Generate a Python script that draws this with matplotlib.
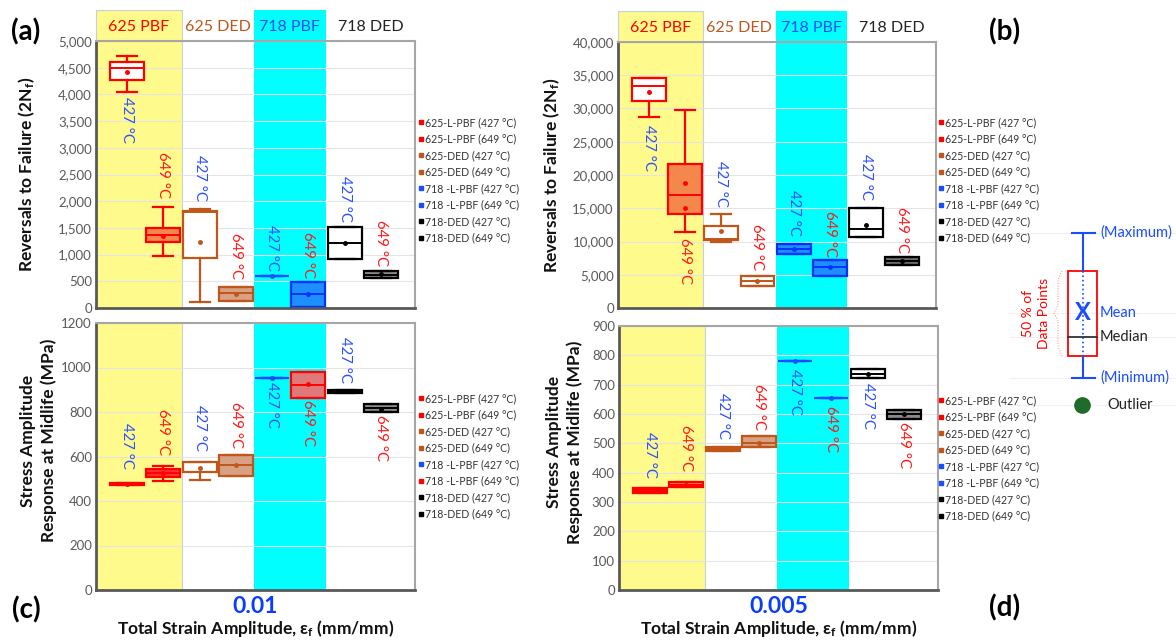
import matplotlib
matplotlib.use('Agg')
import matplotlib.pyplot as plt
from matplotlib.lines import Line2D
from matplotlib.patches import Rectangle
from matplotlib.ticker import FuncFormatter, MultipleLocator

plt.rcParams['font.family'] = ['Lato', 'DejaVu Sans']
plt.rcParams['mathtext.default'] = 'regular'

W, H = 1176, 641

groups = ['625 PBF', '625 DED', '718 PBF', '718 DED']
series = ['625-L-PBF (427 °C)', '625-L-PBF (649 °C)', '625-DED (427 °C)', '625-DED (649 °C)',
          '718 -L-PBF (427 °C)', '718 -L-PBF (649 °C)', '718-DED (427 °C)', '718-DED (649 °C)']
temps = ['427 °C', '649 °C'] * 4

# (a) reversals to failure, strain amplitude 0.01
a_lo = [4050, 965, 110, 140, 594, 25, 915, 560]
a_q1 = [4265, 1235, 945, 140, 594, 25, 915, 560]
a_med = [4500, 1370, 1800, 280, 594, 262, 1214, 623]
a_q3 = [4610, 1505, 1825, 390, 594, 486, 1525, 697]
a_hi = [4710, 1885, 1850, 390, 594, 486, 1525, 697]
a_mean = [4420, 1350, 1245, 262, 594, 262, 1214, 641]

# (b) reversals to failure, strain amplitude 0.005
b_lo = [28650, 11500, 9950, 3350, 8100, 4750, 10650, 6400]
b_q1 = [31100, 14150, 10300, 3350, 8100, 4750, 10650, 6400]
b_med = [33350, 17000, 10400, 4100, 8850, 6100, 11850, 7000]
b_q3 = [34600, 21600, 12400, 4850, 9600, 7250, 15100, 7600]
b_hi = [34600, 29750, 14100, 4850, 9600, 7250, 15100, 7600]
b_mean = [32500, 18750, 11600, 4100, 8850, 6100, 12500, 7000]
b_extra = [[], [15100], [], [], [], [], [], []]

# (c) stress amplitude at midlife, 0.01
c_lo = [472, 492, 495, 514, 955, 865, 885, 798]
c_q1 = [474, 510, 532, 514, 955, 865, 885, 798]
c_med = [477, 528, 575, 561, 955, 922, 893, 820]
c_q3 = [480, 543, 577, 607, 955, 982, 900, 837]
c_hi = [482, 558, 577, 607, 955, 982, 900, 837]
c_mean = [476, 525, 547, 561, 955, 927, 893, 815]

# (d) stress amplitude at midlife, 0.005
d_lo = [331, 350, 474, 488, 780, 653, 724, 584]
d_q1 = [331, 350, 474, 488, 780, 653, 724, 584]
d_med = [340, 359, 481, 500, 780, 653, 738, 600]
d_q3 = [348, 367, 488, 524, 780, 653, 753, 615]
d_hi = [348, 367, 488, 524, 780, 653, 753, 615]
d_mean = [340, 359, 481, 502, 780, 653, 738, 600]

# where the temperature labels start (data units)
a_lab = [3950, 2926, 2864, 1400, 1556, 1432, 2472, 1650]
b_lab = [27500, 10500, 22100, 12650, 17750, 14650, 23150, 15250]
c_lab = [750, 815, 832, 845, 937, 855, 1137, 787]
d_lab = [539, 562, 670, 701, 755, 627, 707, 573]

RED = '#ff0000'
BROWN = '#c0561a'
BLUE = '#1a4dff'
DBLUE = '#0033ff'
ORANGE = '#f4874b'
TAN = '#d9a184'
FBLUE = '#1e8fff'
GRAY = '#8a8a8a'
TXT_BLUE = '#2d50ff'
TXT_RED = '#ff1a1a'

a_face = ['white', ORANGE, 'white', TAN, BLUE, FBLUE, 'white', GRAY]
a_edge = [RED, RED, BROWN, BROWN, BLUE, DBLUE, 'black', 'black']
b_face = ['white', ORANGE, 'white', 'white', FBLUE, FBLUE, 'white', '#6f6f6f']
b_edge = [RED, RED, BROWN, BROWN, DBLUE, DBLUE, 'black', 'black']
c_face = [RED, '#ff3333', 'white', TAN, BLUE, '#e07a7a', 'black', GRAY]
c_edge = [RED, RED, BROWN, BROWN, BLUE, RED, 'black', 'black']
d_face = [RED, '#ff7a5a', BROWN, TAN, BLUE, BLUE, 'white', GRAY]
d_edge = [RED, RED, BROWN, BROWN, BLUE, BLUE, 'black', 'black']

leg_ab = [RED, RED, BROWN, BROWN, BLUE, BLUE, 'black', 'black']
leg_c = [RED, RED, BROWN, BROWN, BLUE, RED, 'black', 'black']


def rect(l, t, r, b):
    return [l / W, 1 - b / H, (r - l) / W, (b - t) / H]


def panel(ax, lo, q1, med, q3, hi, mean, extra, faces, edges, lab_y,
          ymax, step, commas, header):
    ax.set_xlim(0, 8.8)
    ax.set_ylim(0, ymax)
    ax.axvspan(0, 2.36, color='#fffa8c', zorder=0.2, lw=0)
    ax.axvspan(4.36, 6.34, color='#00ffff', zorder=0.2, lw=0)
    ax.axvline(2.36, color='#c8d0d8', lw=0.8, zorder=0.3)
    pos = [0.86 + i for i in range(8)]
    for i in range(8):
        st = dict(med=med[i], q1=q1[i], q3=q3[i], whislo=lo[i], whishi=hi[i],
                  mean=mean[i], fliers=extra[i])
        ec = edges[i]
        ax.bxp([st], positions=[pos[i]], widths=0.94, capwidths=0.55,
               patch_artist=True, showmeans=True, manage_ticks=False,
               boxprops=dict(facecolor=faces[i], edgecolor=ec, lw=1.6),
               medianprops=dict(color=ec, lw=1.4),
               whiskerprops=dict(color=ec, lw=1.6),
               capprops=dict(color=ec, lw=1.6),
               meanprops=dict(marker='o', ms=2.5, mfc=ec, mec=ec),
               flierprops=dict(marker='o', ms=2.5, mfc=ec, mec=ec))
        ax.text(pos[i], lab_y[i], temps[i], rotation=270, ha='center', va='top',
                fontsize=10.8, color=TXT_BLUE if i % 2 == 0 else TXT_RED, zorder=5)
    ax.yaxis.set_major_locator(MultipleLocator(step))
    if commas:
        ax.yaxis.set_major_formatter(FuncFormatter(lambda v, p: f'{v:,.0f}'))
    ax.tick_params(axis='y', length=0, labelsize=9.5, labelcolor='#595959', pad=3)
    ax.grid(axis='y', color='#e4e4e4', lw=0.8)
    ax.set_axisbelow(True)
    for s in ['left', 'bottom']:
        ax.spines[s].set_color('#595959')
        ax.spines[s].set_linewidth(2)
    for s in ['top', 'right']:
        ax.spines[s].set_color('#a6a6a6')
        ax.spines[s].set_linewidth(1.5)
    if header:
        tr = ax.get_xaxis_transform()
        ax.add_patch(Rectangle((0, 1), 2.36, 0.116, transform=tr, clip_on=False,
                               fc='#fffa8c', ec='#c8d0d8', lw=0.8, zorder=0.2))
        ax.add_patch(Rectangle((4.36, 1), 1.98, 0.116, transform=tr, clip_on=False,
                               fc='#00ffff', lw=0, zorder=0.2))
        for x, g, c in zip([1.18, 3.36, 5.35, 7.58], groups,
                           [RED, BROWN, BLUE, '#222222']):
            ax.text(x, 1.054, g, transform=tr, ha='center', va='center',
                    fontsize=11.5, color=c)
        ax.set_xticks([])
    return pos


def legend(x, y, colors):
    hs = [Line2D([], [], marker='s', ls='', color=c, ms=3.5) for c in colors]
    fig.legend(hs, series, loc='upper left', bbox_to_anchor=(x / W, 1 - y / H),
               frameon=False, fontsize=7.6, handlelength=0.5, handletextpad=0.2,
               labelspacing=0.52, borderpad=0, borderaxespad=0, labelcolor='#333333')


fig = plt.figure(figsize=(W / 100, H / 100), dpi=100)

ax_a = fig.add_axes(rect(96, 41, 415, 308))
ax_b = fig.add_axes(rect(618, 42, 936, 308))
ax_c = fig.add_axes(rect(96, 323, 415, 590))
ax_d = fig.add_axes(rect(619, 326, 938, 590))

none = [[]] * 8
panel(ax_a, a_lo, a_q1, a_med, a_q3, a_hi, a_mean, none, a_face, a_edge, a_lab,
      5000, 500, True, True)
panel(ax_b, b_lo, b_q1, b_med, b_q3, b_hi, b_mean, b_extra, b_face, b_edge, b_lab,
      40000, 5000, True, True)
panel(ax_c, c_lo, c_q1, c_med, c_q3, c_hi, c_mean, none, c_face, c_edge, c_lab,
      1200, 200, False, False)
panel(ax_d, d_lo, d_q1, d_med, d_q3, d_hi, d_mean, none, d_face, d_edge, d_lab,
      900, 100, False, False)

lab_kw = dict(fontsize=12.5, fontweight='bold', color='#111111')
ax_a.set_ylabel('Reversals to Failure (2N$_f$)', **lab_kw)
ax_a.yaxis.set_label_coords(-0.185, 0.5)
ax_b.set_ylabel('Reversals to Failure (2N$_f$)', **lab_kw)
ax_b.yaxis.set_label_coords(-0.176, 0.5)
ax_c.set_ylabel('Stress Amplitude\nResponse at Midlife (MPa)', linespacing=1.3, **lab_kw)
ax_c.yaxis.set_label_coords(-0.122, 0.56)
ax_d.set_ylabel('Stress Amplitude\nResponse at Midlife (MPa)', linespacing=1.3, **lab_kw)
ax_d.yaxis.set_label_coords(-0.113, 0.56)

for ax, s in [(ax_c, '0.01'), (ax_d, '0.005')]:
    ax.set_xticks([4.4])
    ax.set_xticklabels([s], fontsize=16.5, fontweight='bold', color='#0a3cff')
    ax.tick_params(axis='x', length=0, pad=4)
    ax.set_xlabel('Total Strain Amplitude, ε$_f$ (mm/mm)', labelpad=1, **lab_kw)

legend(418, 117, leg_ab)
legend(938, 117, leg_ab)
legend(418, 393, leg_c)
legend(938, 395, leg_ab)

for s, x, y in [('(a)', 26, 32), ('(b)', 1005, 32), ('(c)', 26, 610), ('(d)', 1005, 608)]:
    fig.text(x / W, 1 - y / H, s, fontsize=20, fontweight='bold', ha='center', va='center')

# box-plot key on the right
k = fig.add_axes(rect(990, 215, 1176, 425))
k.set_xlim(990, 1176)
k.set_ylim(425, 215)
k.axis('off')
for y in [233, 313, 337, 378, 405]:
    k.plot([1010, 1176], [y, y], color='#f0f0f0', lw=0.8, zorder=0)
k.plot([1083, 1083], [233, 271], color=BLUE, lw=1.5)
k.plot([1083, 1083], [271, 356], color=BLUE, lw=1.2, ls=':')
k.plot([1083, 1083], [356, 378], color=BLUE, lw=1.5)
k.plot([1072, 1095], [233, 233], color=BLUE, lw=1.5)
k.plot([1072, 1095], [378, 378], color=BLUE, lw=1.5)
k.add_patch(Rectangle((1068, 271), 29, 85, fc='none', ec=RED, lw=1.3))
k.plot([1068, 1097], [337, 337], color='#333333', lw=1.3)
k.text(1083, 313, 'X', color=BLUE, fontsize=17, fontweight='bold', ha='center', va='center')
k.plot([1082], [405], 'o', ms=11, color='#1e6b2a')
k.plot([1062, 1058, 1058, 1054, 1058, 1058, 1062],
       [271, 280, 305, 313, 321, 346, 356], color='#ff8080', lw=0.7, ls=':')
k.text(1036, 313, '50 % of\nData Points', rotation=90, ha='center', va='center',
       color=RED, fontsize=10, linespacing=1.3)
k.text(1100, 233, '(Maximum)', color=BLUE, fontsize=10.5, va='center')
k.text(1100, 313, 'Mean', color=BLUE, fontsize=10.5, va='center')
k.text(1100, 337, 'Median', color='#222222', fontsize=10.5, va='center')
k.text(1100, 378, '(Minimum)', color=BLUE, fontsize=10.5, va='center')
k.text(1107, 405, 'Outlier', color='#222222', fontsize=10.5, va='center')

fig.savefig('out.png', dpi=100)
